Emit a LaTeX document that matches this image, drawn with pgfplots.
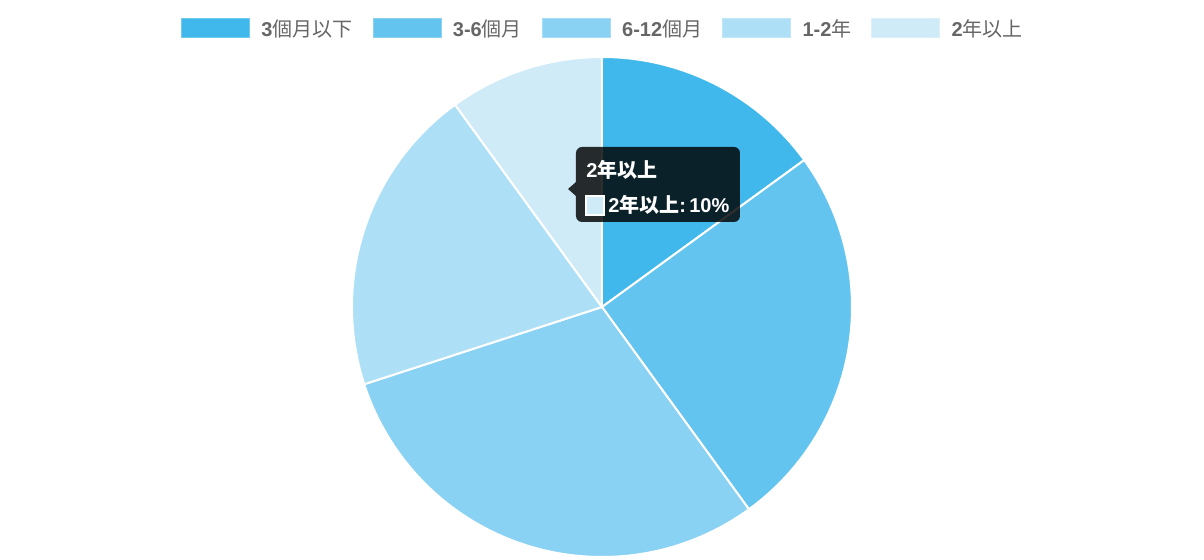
\documentclass[border=0pt]{standalone}
\usepackage{fontspec}
\setmainfont{Liberation Sans}
\newfontfamily\cjk{Noto Sans CJK TC}
\usepackage{pgfplots}
\usepackage{pgfplotstable}
\pgfplotsset{compat=1.18}

\definecolor{slice0}{HTML}{41B8EC}
\definecolor{slice1}{HTML}{63C4F0}
\definecolor{slice2}{HTML}{89D2F3}
\definecolor{slice3}{HTML}{ADE0F6}
\definecolor{slice4}{HTML}{CFEBF8}
\definecolor{legtext}{HTML}{666666}

% legend text: latin bold, CJK in medium weight
\newcommand\cj[1]{{\cjk\mdseries #1}}

\pgfplotstableread{
pct
15
25
30
20
10
}\piedata
\pgfplotstablecreatecol[expr accum={\pgfmathaccuma + \thisrow{pct}}{0}]{cum}\piedata

\begin{document}
\begin{tikzpicture}
% 1px = 0.75pt, pie centre at (602,307) px
\path[use as bounding box] (-451.5pt,-189.75pt) rectangle (451.5pt,230.25pt);

\begin{axis}[
    at={(0pt,0pt)}, anchor=center,
    hide axis,
    scale only axis,
    x=187.5pt, y=187.5pt,
    xmin=-1, xmax=1, ymin=-1, ymax=1,
    clip=false,
    legend columns=-1,
    legend image code/.code={\draw[#1] (0pt,-6.25pt) rectangle (51pt,8pt);},
    legend style={
        at={(0.5,1.055)}, anchor=center,
        draw=none, fill=none, inner sep=0pt,
        font=\fontsize{15}{18}\selectfont\bfseries,
        text=legtext,
        nodes={inner xsep=0pt},
        /tikz/every odd column/.append style={column sep=8.5pt},
        /tikz/every even column/.append style={column sep=15pt},
    },
]
\pgfplotsforeachungrouped \i in {0,...,4}{
    \pgfplotstablegetelem{\i}{pct}\of\piedata \let\p\pgfplotsretval
    \pgfplotstablegetelem{\i}{cum}\of\piedata \let\c\pgfplotsretval
    \pgfmathsetmacro\aa{90-3.6*(\c-\p)}
    \pgfmathsetmacro\ab{90-3.6*\c}
    \edef\tmp{\noexpand\fill[fill=slice\i, draw=white, line width=1.5pt, line join=round]
        (axis cs:0,0) -- (axis cs:{cos(\aa)},{sin(\aa)})
        arc[start angle=\aa, end angle=\ab, radius=187.5pt] -- cycle;}
    \tmp
}
\addlegendimage{fill=slice0, draw=slice0!75!white, line width=0.75pt}
\addlegendentry{3\cj{個月以下}}
\addlegendimage{fill=slice1, draw=slice1!75!white, line width=0.75pt}
\addlegendentry{3-6\cj{個月}}
\addlegendimage{fill=slice2, draw=slice2!75!white, line width=0.75pt}
\addlegendentry{6-12\cj{個月}}
\addlegendimage{fill=slice3, draw=slice3!75!white, line width=0.75pt}
\addlegendentry{1-2\cj{年}}
\addlegendimage{fill=slice4, draw=slice4!75!white, line width=0.75pt}
\addlegendentry{2\cj{年以上}}
\end{axis}

% tooltip
\fill[black, opacity=0.82, rounded corners=4.5pt] (-19.5pt,63.75pt) rectangle (103.5pt,120pt);
\fill[black, opacity=0.82] (-25.5pt,88.5pt) -- (-19.5pt,93.75pt) -- (-19.5pt,83.25pt) -- cycle;
\node[anchor=base west, inner sep=0pt, text=white, font=\fontsize{15}{18}\selectfont\bfseries]
    at (-12pt,96.75pt) {2{\cjk 年以上}};
\filldraw[fill=slice4, draw=white, line width=1.5pt] (-12pt,83.25pt) rectangle (1.5pt,69pt);
\node[anchor=base west, inner sep=0pt, text=white, font=\fontsize{15}{18}\selectfont\bfseries]
    at (4.5pt,70.5pt) {2{\cjk 年以上}:\,10\%};
\end{tikzpicture}
\end{document}
